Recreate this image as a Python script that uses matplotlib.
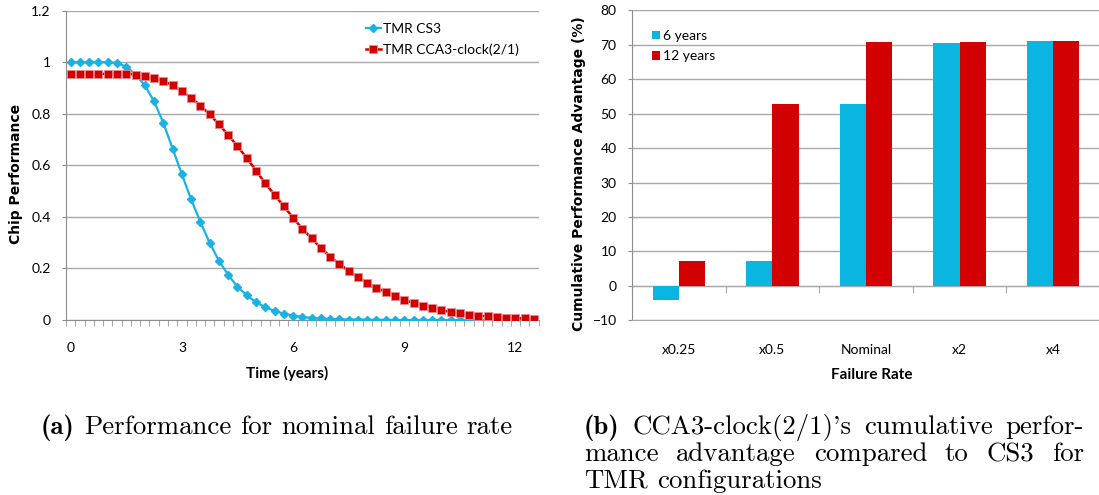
import numpy as np
import matplotlib
matplotlib.use('Agg')
import matplotlib.pyplot as plt

# ---- data -------------------------------------------------------------
time_years = np.arange(51) * 0.25   # category axis, 0 .. 12.5 years

tmr_cs3 = [1.0, 1.0, 1.0, 1.0, 1.0, 0.997, 0.983, 0.952, 0.911, 0.848,
           0.765, 0.665, 0.565, 0.468, 0.380, 0.299, 0.230, 0.175, 0.129, 0.096,
           0.069, 0.050, 0.035, 0.025, 0.017, 0.012, 0.008, 0.006, 0.004, 0.003,
           0.002, 0.002, 0.001, 0.001, 0.001, 0.0, 0.0, 0.0, 0.0, 0.0,
           0.0, 0.0, 0.0, 0.0, 0.0, 0.0, 0.0, 0.0, 0.0, 0.0, 0.0]
tmr_cca3 = [0.955, 0.955, 0.955, 0.955, 0.955, 0.955, 0.955, 0.952, 0.946, 0.938,
            0.927, 0.911, 0.888, 0.862, 0.832, 0.798, 0.759, 0.718, 0.674, 0.629,
            0.580, 0.530, 0.486, 0.441, 0.397, 0.354, 0.317, 0.279, 0.246, 0.217,
            0.191, 0.167, 0.144, 0.125, 0.109, 0.093, 0.078, 0.066, 0.056, 0.047,
            0.039, 0.031, 0.026, 0.021, 0.017, 0.014, 0.012, 0.009, 0.008, 0.006, 0.005]
line_labels = ['TMR CS3', 'TMR CCA3-clock(2/1)']
time_ticks = [0, 3, 6, 9, 12]

rates = ['x0.25', 'x0.5', 'Nominal', 'x2', 'x4']
adv_6y = [-4.1, 7.2, 52.7, 70.6, 71.1]
adv_12y = [7.1, 52.9, 70.8, 70.8, 71.1]
bar_labels = ['6 years', '12 years']

# ---- style ------------------------------------------------------------
blue_line = '#1ab2e2'
blue_bar = '#0bb5e2'
red = '#d20000'
grid_c = '#a8a8a8'
axis_c = '#8c8c8c'

plt.rcParams['font.family'] = ['Lato', 'DejaVu Sans']
plt.rcParams['font.size'] = 10

fig = plt.figure(figsize=(10.99, 4.95), dpi=100, facecolor='w')

# ---- (a) line chart ---------------------------------------------------
ax1 = fig.add_axes([0.0601, 0.3535, 0.430, 0.6249])
ax1.plot(time_years, tmr_cs3, color=blue_line, lw=1.6, marker='D', ms=3.8,
         mec=blue_line, label=line_labels[0], zorder=3)
ax1.plot(time_years, tmr_cca3, color=red, lw=1.8, marker='s', ms=5.6,
         mec='#e88a8a', mew=0.6, label=line_labels[1], zorder=4)
ax1.set_xlim(time_years[0] - 0.125, time_years[-1] + 0.125)
ax1.set_ylim(0, 1.2)
ax1.set_yticks(np.arange(0, 1.21, 0.2))
ax1.set_yticklabels(['0', '0.2', '0.4', '0.6', '0.8', '1', '1.2'])
ax1.set_xticks(time_ticks)
ax1.set_xticks(np.append(time_years - 0.125, time_years[-1] + 0.125), minor=True)
ax1.tick_params(axis='x', which='major', length=0, pad=16, labelsize=10)
ax1.tick_params(axis='x', which='minor', length=4, color=grid_c, width=0.8)
ax1.tick_params(axis='y', length=3, color=axis_c, pad=8, labelsize=10)
ax1.grid(axis='y', color=grid_c, lw=1)
ax1.set_axisbelow(True)
for s in ['top', 'right']:
    ax1.spines[s].set_visible(False)
for s in ['left', 'bottom']:
    ax1.spines[s].set_color(axis_c)
ax1.set_xlabel('Time (years)', fontweight='bold', fontsize=11)
ax1.set_ylabel('Chip Performance', fontweight='bold', fontsize=10,
               family='DejaVu Sans')
ax1.xaxis.set_label_coords(0.468, -0.149)
ax1.yaxis.set_label_coords(-0.091, 0.472)
ax1.legend(loc='upper left', bbox_to_anchor=(0.634, 0.96), frameon=False,
           borderpad=0, borderaxespad=0, handlelength=1.1, handletextpad=0.15,
           labelspacing=0.6, fontsize=10)

# ---- (b) bar chart ----------------------------------------------------
ax2 = fig.add_axes([0.575, 0.3529, 0.426, 0.6259])
xpos = np.arange(len(rates))
bw = 0.28
ax2.bar(xpos - bw / 2, adv_6y, bw, color=blue_bar, label=bar_labels[0], zorder=3)
ax2.bar(xpos + bw / 2, adv_12y, bw, color=red, label=bar_labels[1], zorder=3)
ax2.set_xlim(-0.5, len(rates) - 0.5)
ax2.set_ylim(-10, 80)
ax2.set_yticks(np.arange(-10, 81, 10))
ax2.set_xticks(xpos)
ax2.set_xticklabels(rates)
ax2.tick_params(axis='x', length=0, pad=17, labelsize=10)
ax2.tick_params(axis='y', length=3, color=axis_c, pad=8, labelsize=10)
ax2.grid(axis='y', color=grid_c, lw=1)
ax2.set_axisbelow(True)
for s in ['top', 'right']:
    ax2.spines[s].set_visible(False)
ax2.spines['left'].set_color(axis_c)
ax2.spines['bottom'].set_color(grid_c)
# category axis crossing at zero with boundary ticks
sec = ax2.secondary_xaxis(0, transform=ax2.transData)
sec.set_xticks(np.arange(len(rates) + 1) - 0.5)
sec.set_xticklabels([])
sec.tick_params(length=5, color=grid_c, width=0.8)
sec.spines['bottom'].set_color(axis_c)
ax2.set_xlabel('Failure Rate', fontweight='bold', fontsize=11)
ax2.set_ylabel('Cumulative Performance Advantage (%)', fontweight='bold',
               fontsize=10, family='DejaVu Sans')
ax2.xaxis.set_label_coords(0.513, -0.154)
ax2.yaxis.set_label_coords(-0.098, 0.475)
ax2.legend(loc='upper left', bbox_to_anchor=(0.043, 0.937), frameon=False,
           borderpad=0, borderaxespad=0, handlelength=0.55, handleheight=0.55,
           handletextpad=0.25, labelspacing=0.6, fontsize=10)

# ---- captions ---------------------------------------------------------
cap_size = 19.3
W, H = 1099.0, 495.0
renderer = fig.canvas.get_renderer()


def caption_line(words, x0, x1, y, justify):
    objs = []
    for txt, bold in words:
        t = fig.text(x0 / W, 1 - y / H, txt, fontsize=cap_size, va='baseline',
                     family='cmb10' if bold else 'cmr10')
        objs.append(t)
    widths = [t.get_window_extent(renderer).width for t in objs]
    if justify:
        gap = (x1 - x0 - sum(widths)) / (len(objs) - 1)
    else:
        gap = 0.333 * cap_size * 100 / 72
    x = x0
    for t, w in zip(objs, widths):
        t.set_x(x / W)
        x += w + gap


caption_line([('(a)', True), ('Performance', False), ('for', False),
              ('nominal', False), ('failure', False), ('rate', False)],
             41, 513, 434, False)
caption_line([('(b)', True), ("CCA3-clock(2/1)'s", False),
              ('cumulative', False), ('perfor-', False)], 584, 1084, 434, True)
caption_line([('mance', False), ('advantage', False), ('compared', False),
              ('to', False), ('CS3', False), ('for', False)], 584, 1084, 461, True)
caption_line([('TMR', False), ('configurations', False)], 584, 1084, 488, False)

fig.savefig('out.png', dpi=100, facecolor=fig.get_facecolor())
